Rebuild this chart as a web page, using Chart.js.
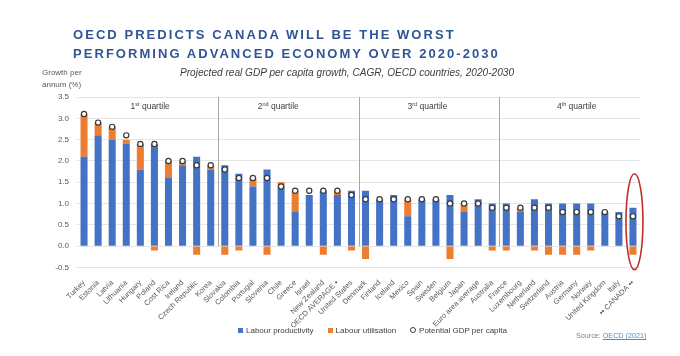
<!DOCTYPE html>
<html>
<head>
<meta charset="utf-8">
<script src="https://cdn.jsdelivr.net/npm/chart.js@4.4.1/dist/chart.umd.min.js"></script>
<style>
  html, body { margin: 0; padding: 0; background: #ffffff; }
  #wrap { position: relative; width: 680px; height: 356px; overflow: hidden; font-family: "Liberation Sans", Arial, sans-serif; }
  #c { position: absolute; left: 0; top: 0; }
  .t { position: absolute; white-space: nowrap; }
  #title { left: 73px; top: 25px; color: #2f5597; font-weight: bold; font-size: 13px; letter-spacing: 2.05px; line-height: 19px; }
  #ytitle { left: 42px; top: 67px; color: #595959; font-size: 8px; line-height: 12px; }
  #sub { left: 180px; top: 67px; color: #404040; font-style: italic; font-size: 10.1px; }
  #legend { left: 238px; top: 326px; color: #404040; font-size: 8px; }
  #legend span.sw { display: inline-block; width: 5px; height: 5px; margin-right: 3px; vertical-align: 0px; }
  #legend span.it { margin-right: 14px; }
  #legend span.ci { display: inline-block; width: 4px; height: 4px; border: 1px solid #404040; border-radius: 50%; margin-right: 3px; vertical-align: 0px; }
  #source { left: 576px; top: 331px; color: #7f7f7f; font-size: 7.2px; }
  #source a { color: #4a90c8; text-decoration: underline; }
</style>
</head>
<body>
<div id="wrap">
  <canvas id="c" width="680" height="356"></canvas>
  <div class="t" id="title">OECD PREDICTS CANADA WILL BE THE WORST<br>PERFORMING ADVANCED ECONOMY OVER 2020-2030</div>
  <div class="t" id="ytitle">Growth per<br>annum (%)</div>
  <div class="t" id="sub">Projected real GDP per capita growth, CAGR, OECD countries, 2020-2030</div>
  <div class="t" id="legend"><span class="it"><span class="sw" style="background:#4472C4"></span>Labour productivity</span><span class="it"><span class="sw" style="background:#ED7D31"></span>Labour utilisation</span><span class="it"><span class="ci"></span>Potential GDP per capita</span></div>
  <div class="t" id="source">Source: <a>OECD (2021)</a></div>
</div>
<script>
const categories = ["Turkey","Estonia","Latvia","Lithuania","Hungary","Poland","Cost Rica","Ireland","Czech Republic","Korea",
  "Slovakia","Colombia","Portugal","Slovenia","Chile","Greece","Israel","New Zealand","\u2022 OECD AVERAGE \u2022","United States",
  "Denmark","Finland","Iceland","Mexico","Spain","Sweden","Belgium","Japan","Euro area average","Australia",
  "France","Luxembourg","Netherland","Switzerland","Austria","Germany","Norway","United Kingdom","Italy","\u2022\u2022 CANADA \u2022\u2022"];
const labourProductivity = [2.1,2.6,2.5,2.4,1.8,2.4,1.6,1.9,2.1,1.8,
  1.9,1.7,1.4,1.8,1.4,0.8,1.2,1.3,1.2,1.3,
  1.3,1.1,1.2,0.7,1.1,1.1,1.2,0.8,1.1,1.0,
  1.0,0.8,1.1,1.0,1.0,1.0,1.0,0.8,0.8,0.9];
const labourUtilisation = [1.0,0.3,0.3,0.1,0.6,-0.1,0.4,0.1,-0.2,0.1,
  -0.2,-0.1,0.2,-0.2,0.1,0.5,0,-0.2,0.1,-0.1,
  -0.3,0,0,0.4,0,0,-0.3,0.2,0,-0.1,
  -0.1,0.1,-0.1,-0.2,-0.2,-0.2,-0.1,0,0,-0.2];
const potentialGdp = [3.1,2.9,2.8,2.6,2.4,2.4,2.0,2.0,1.9,1.9,
  1.8,1.6,1.6,1.6,1.4,1.3,1.3,1.3,1.3,1.2,
  1.1,1.1,1.1,1.1,1.1,1.1,1.0,1.0,1.0,0.9,
  0.9,0.9,0.9,0.9,0.8,0.8,0.8,0.8,0.7,0.7];
const yTicks = [-0.5,0,0.5,1,1.5,2,2.5,3,3.5];
const quartiles = [
  {num:"1", sup:"st", from:0, to:9},
  {num:"2", sup:"nd", from:10, to:19},
  {num:"3", sup:"rd", from:20, to:29},
  {num:"4", sup:"th", from:30, to:39}
];
const highlightIndex = 39;

const labelShift = [0.2, -0.7, -0.1, 0.5]; // label offsets in category widths

const overlay = {
  id: 'overlay',
  beforeDatasetsDraw(chart) {
    const {ctx, scales:{x, y}} = chart;
    ctx.save();
    ctx.strokeStyle = '#a6a6a6';
    ctx.lineWidth = 1;
    for (let q = 0; q < quartiles.length - 1; q++) {
      const xa = x.getPixelForValue(quartiles[q].to), xb = x.getPixelForValue(quartiles[q+1].from);
      const xm = Math.round((xa + xb) / 2) + 0.5;
      ctx.beginPath();
      ctx.moveTo(xm, y.getPixelForValue(3.5));
      ctx.lineTo(xm, y.getPixelForValue(0));
      ctx.stroke();
    }
    ctx.fillStyle = '#404040';
    ctx.textBaseline = 'alphabetic';
    const yy = y.getPixelForValue(3.5) + 12;
    const step = x.getPixelForValue(1) - x.getPixelForValue(0);
    quartiles.forEach((q, i) => {
      const xc = (x.getPixelForValue(q.from) + x.getPixelForValue(q.to)) / 2 + labelShift[i] * step;
      ctx.font = '8.5px "Liberation Sans", Arial, sans-serif';
      const w1 = ctx.measureText(q.num).width;
      const rest = ' quartile';
      const w3 = ctx.measureText(rest).width;
      ctx.font = '5.5px "Liberation Sans", Arial, sans-serif';
      const w2 = ctx.measureText(q.sup).width;
      let sx = xc - (w1 + w2 + w3) / 2;
      ctx.font = '8.5px "Liberation Sans", Arial, sans-serif';
      ctx.fillText(q.num, sx, yy);
      ctx.font = '5.5px "Liberation Sans", Arial, sans-serif';
      ctx.fillText(q.sup, sx + w1, yy - 3.5);
      ctx.font = '8.5px "Liberation Sans", Arial, sans-serif';
      ctx.fillText(rest, sx + w1 + w2, yy);
    });
    ctx.restore();
  },
  afterDraw(chart) {
    const {ctx, scales:{x, y}} = chart;
    const cx = x.getPixelForValue(highlightIndex) + 1.5;
    const top = y.getPixelForValue(1.7), bot = y.getPixelForValue(-0.55);
    ctx.save();
    ctx.strokeStyle = '#c0302b';
    ctx.lineWidth = 1.6;
    ctx.beginPath();
    ctx.ellipse(cx, (top + bot) / 2, 8.5, (bot - top) / 2, 0, 0, Math.PI * 2);
    ctx.stroke();
    ctx.restore();
  }
};

new Chart(document.getElementById('c'), {
  type: 'bar',
  data: {
    labels: categories,
    datasets: [
      { type: 'line', label: 'Potential GDP per capita', data: potentialGdp, showLine: false,
        pointRadius: 2.6, pointHoverRadius: 2.6, pointBackgroundColor: '#ffffff', pointBorderColor: '#3a3a3a',
        pointBorderWidth: 1.2, stack: 'dots', order: 0 },
      { label: 'Labour productivity', data: labourProductivity, backgroundColor: '#4472C4', stack: 's', order: 1,
        barPercentage: 0.5, categoryPercentage: 1 },
      { label: 'Labour utilisation', data: labourUtilisation, backgroundColor: '#ED7D31', stack: 's', order: 2,
        barPercentage: 0.5, categoryPercentage: 1 }
    ]
  },
  options: {
    responsive: false,
    animation: false,
    layout: { padding: { left: 40, right: 40, top: 97, bottom: 28.5 } },
    plugins: { legend: { display: false }, tooltip: { enabled: false } },
    scales: {
      x: {
        stacked: true,
        grid: { display: false },
        border: { display: false },
        ticks: { autoSkip: false, maxRotation: 45, minRotation: 45, padding: 3, color: '#595959',
          font: { size: 7.5, family: '"Liberation Sans", Arial, sans-serif' } },
        afterFit(s) { s.height = 60; }
      },
      y: {
        stacked: true,
        min: -0.5, max: 3.5,
        afterBuildTicks(s) { s.ticks = yTicks.map(v => ({ value: v })); },
        ticks: { padding: 8, color: '#595959', callback: v => v.toFixed(1),
          font: { size: 8, family: '"Liberation Sans", Arial, sans-serif' } },
        grid: { color: '#dedede', lineWidth: 0.8, drawTicks: false },
        border: { display: false },
        afterFit(s) { s.width = 37; }
      }
    }
  },
  plugins: [overlay]
});
</script>
</body>
</html>
